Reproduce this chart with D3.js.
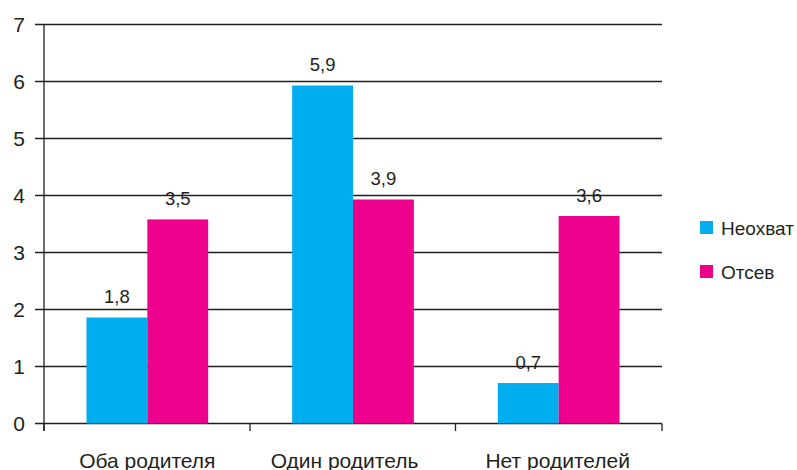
<!DOCTYPE html>
<html><head><meta charset="utf-8">
<script src="https://cdn.jsdelivr.net/npm/d3@7/dist/d3.min.js"></script>
<style>body{margin:0;background:#fff}svg{display:block;font-family:"Liberation Sans",Arial,Helvetica,sans-serif}</style>
</head><body><svg id="c" width="797" height="470"></svg>
<script>
const categories = ["Оба родителя", "Один родитель", "Нет родителей"];
const seriesNames = ["Неохват", "Отсев"];
const neohvat = [1.86, 5.93, 0.71];
const otsev = [3.58, 3.93, 3.64];
const neohvatLabels = ["1,8", "5,9", "0,7"];
const otsevLabels = ["3,5", "3,9", "3,6"];
const yTicks = [0, 1, 2, 3, 4, 5, 6, 7];
const colors = ["#00aeef", "#ec008c"];

const svg = d3.select("#c");
const ink = "#231f20";
const x0 = d3.scaleBand().domain(categories).range([44.5, 661.5]).padding(0);
const x1 = d3.scaleBand().domain(seriesNames).range([0, x0.bandwidth()]).paddingInner(0).paddingOuter(0.69);
const y = d3.scaleLinear().domain([0, 7]).range([423.5, 24.5]);
const catLabelShift = [0, -8.5, -1];

// gridlines
svg.append("g").selectAll("line").data(yTicks).join("line")
  .attr("x1", 35).attr("x2", 662)
  .attr("y1", d => y(d)).attr("y2", d => y(d))
  .attr("stroke", ink).attr("stroke-width", 1.3);
// y labels
svg.append("g").selectAll("text").data(yTicks).join("text")
  .attr("x", 25).attr("y", d => y(d) + 7.5)
  .attr("text-anchor", "end").attr("font-size", 21).attr("fill", ink)
  .text(d => d);

const rows = categories.map((c, i) => ({c, vals: [neohvat[i], otsev[i]], labs: [neohvatLabels[i], otsevLabels[i]]}));
const g = svg.append("g").selectAll("g").data(rows).join("g")
  .attr("transform", d => `translate(${x0(d.c)},0)`);
g.selectAll("rect").data(d => d.vals.map((v, j) => ({s: seriesNames[j], v, j}))).join("rect")
  .attr("x", d => x1(d.s)).attr("width", x1.bandwidth())
  .attr("y", d => y(d.v)).attr("height", d => y(0) - y(d.v))
  .attr("fill", d => colors[d.j]);
g.selectAll("text").data(d => d.vals.map((v, j) => ({s: seriesNames[j], v, l: d.labs[j]}))).join("text")
  .attr("x", d => x1(d.s) + x1.bandwidth() / 2).attr("y", d => y(d.v) - 14.5)
  .attr("text-anchor", "middle").attr("font-size", 18.5).attr("fill", ink)
  .text(d => d.l);

// axes lines
svg.append("line").attr("x1", 44).attr("x2", 44).attr("y1", y(7)).attr("y2", 431)
  .attr("stroke", ink).attr("stroke-width", 1.3);
svg.append("g").selectAll("line").data([44, 250, 455.5, 662]).join("line")
  .attr("x1", d => d).attr("x2", d => d).attr("y1", y(0)).attr("y2", 431)
  .attr("stroke", ink).attr("stroke-width", 1.3);
svg.append("g").selectAll("text").data(categories).join("text")
  .attr("x", (d, i) => x0(d) + x0.bandwidth() / 2 + catLabelShift[i]).attr("y", 468)
  .attr("text-anchor", "middle").attr("font-size", 21).attr("fill", ink)
  .text(d => d);

// legend
const lg = svg.append("g").selectAll("g").data(seriesNames).join("g")
  .attr("transform", (d, i) => `translate(700,${221 + i * 44})`);
lg.append("rect").attr("width", 13).attr("height", 13).attr("fill", (d, i) => colors[i]);
lg.append("text").attr("x", 21).attr("y", 14).attr("font-size", 19).attr("fill", ink).text(d => d);
</script></body></html>
